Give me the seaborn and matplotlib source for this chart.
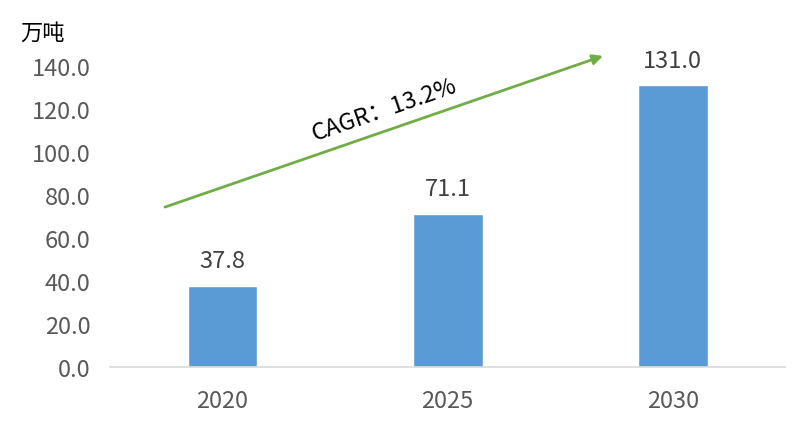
import matplotlib
matplotlib.use('Agg')
import matplotlib.pyplot as plt
import pandas as pd
import seaborn as sns

years = ['2020', '2025', '2030']
volumes = [37.8, 71.1, 131.0]
unit_label = '万吨'
cagr_label = 'CAGR：13.2%'

sns.set_style('white')
plt.rcParams['font.family'] = ['Noto Sans CJK SC', 'DejaVu Sans']

df = pd.DataFrame({'year': years, 'volume': volumes})

fig = plt.figure(figsize=(8.03, 4.27), dpi=100)
ax = fig.add_axes([0.137, 0.138, 0.841, 0.705])

sns.barplot(data=df, x='year', y='volume', color='#5b9bd5', saturation=1,
            width=0.31, ax=ax)
ax.set_xlim(-0.5, 2.5)
ax.set_ylim(0, 140)
ax.set_yticks(range(0, 141, 20))
ax.set_yticklabels(['%.1f' % v for v in range(0, 141, 20)])
ax.set_xlabel('')
ax.set_ylabel('')
ax.tick_params(axis='both', colors='#595959', labelsize=17, length=0)
ax.tick_params(axis='x', pad=16)
ax.tick_params(axis='y', pad=14)

for s in ['top', 'right', 'left']:
    ax.spines[s].set_visible(False)
ax.spines['bottom'].set_color('#d9d9d9')
ax.spines['bottom'].set_linewidth(1.2)

# value labels
for i, v in enumerate(volumes):
    ax.annotate('%.1f' % v, (i, v), xytext=(0, 10), textcoords='offset points',
                ha='center', va='bottom', fontsize=17, color='#404040')

# unit label
fig.text(0.025, 0.895, unit_label, fontsize=16, color='black', ha='left', va='bottom')

# CAGR arrow
ax.annotate('', xy=(1.69, 144.7), xytext=(-0.256, 74.4), annotation_clip=False,
            arrowprops=dict(arrowstyle='-|>', color='#70ad47', lw=2,
                            mutation_scale=15, shrinkA=0, shrinkB=0))
ax.text(0.72, 120, cagr_label, rotation=19, fontsize=17, ha='center', va='center',
        color='black', rotation_mode='anchor')

fig.savefig('out.png', dpi=100)
